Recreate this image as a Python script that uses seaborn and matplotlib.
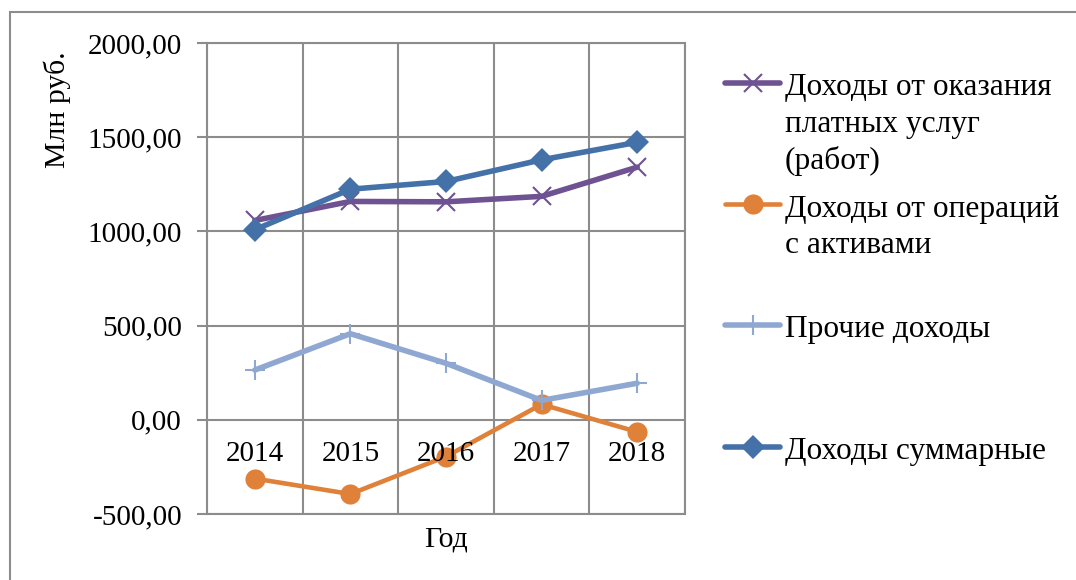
import matplotlib
matplotlib.use('Agg')
import matplotlib.pyplot as plt
import seaborn as sns
import numpy as np
import pandas as pd
from matplotlib.lines import Line2D
from matplotlib.patches import Rectangle

# ---- data ----
years = ['2014', '2015', '2016', '2017', '2018']
uslugi = [1058, 1159, 1157, 1186, 1341]
aktivy = [-312, -394, -195, 82, -64]
prochie = [264, 457, 300, 103, 194]
summarnye = [1009, 1224, 1265, 1380, 1473]
names = ['Доходы от оказания\nплатных услуг\n(работ)',
         'Доходы от операций\nс активами',
         'Прочие доходы',
         'Доходы суммарные']
yticks = [-500, 0, 500, 1000, 1500, 2000]
xlabel = 'Год'
ylabel = 'Млн руб.'

sns.set_style('white')
plt.rcParams['font.family'] = ['Liberation Serif', 'DejaVu Serif']

W, H = 1076, 580
fig = plt.figure(figsize=(W / 100, H / 100), dpi=100)
ax = fig.add_axes([207 / W, 1 - 514 / H, (685 - 207) / W, (514 - 43) / H])

pos = np.arange(len(years))
styles = [
    dict(color='#6E5291', marker='x', markersize=13, markeredgewidth=1.5, linewidth=4.0),
    dict(color='#E0813A', marker='o', markersize=14.5, markeredgewidth=0, linewidth=3.3),
    dict(color='#8FA8D1', marker='+', markersize=14, markeredgewidth=1.5, linewidth=4.0),
    dict(color='#4571A9', marker='D', markersize=12.5, markeredgewidth=0, linewidth=4.0),
]
for i, (vals, st) in enumerate(zip([uslugi, aktivy, prochie, summarnye], styles)):
    df = pd.DataFrame({'x': pos, 'y': vals})
    sns.lineplot(data=df, x='x', y='y', ax=ax, zorder=3 + i,
                 markeredgecolor=st['color'], **st)

gc = '#8C8C8C'
ax.set_xlim(-0.5, 4.5)
ax.set_ylim(yticks[0], yticks[-1])
ax.set_yticks(yticks)
ax.set_yticklabels([f'{v:.2f}'.replace('.', ',') for v in yticks])
ax.set_xticks(pos)
ax.set_xticklabels([])
ax.set_xticks(np.arange(-0.5, len(years), 1.0), minor=True)
ax.tick_params(axis='x', which='both', length=0, bottom=False)
ax.grid(False)
ax.grid(True, which='minor', axis='x', color=gc, lw=1.5)
ax.grid(True, which='major', axis='y', color=gc, lw=1.5)
ax.set_axisbelow(True)
for s in ax.spines.values():
    s.set_color(gc)
    s.set_linewidth(1.5)
ax.tick_params(axis='y', left=True, length=7, width=1.5, color=gc, pad=11,
               labelsize=21, direction='out', labelcolor='black')
ax.set_xlabel('')
ax.set_ylabel('')

sec = ax.secondary_xaxis(0, transform=ax.transData)
sec.set_xticks(pos, labels=years)
sec.tick_params(length=0, pad=15, labelsize=21, labelcolor='black')
sec.spines['bottom'].set_visible(False)
sec.set_zorder(10)

fig.text(446 / W, 1 - 540 / H, xlabel, ha='center', va='center', fontsize=21.5, color='black')
fig.text(57 / W, 1 - 110 / H, ylabel, rotation=90, ha='center', va='center', fontsize=21.5,
         color='black')

# legend (manual)
handle_y = [83, 204, 325, 447]
lh = 36.7
for name, st, hy in zip(names, styles, handle_y):
    ln = Line2D([725 / W, 752.5 / W, 780 / W], [1 - hy / H] * 3, transform=fig.transFigure,
                color=st['color'], linewidth=st['linewidth'], marker=st['marker'],
                markersize=st['markersize'], markeredgewidth=st['markeredgewidth'],
                markeredgecolor=st['color'], markevery=[1])
    fig.add_artist(ln)
    for k, line in enumerate(name.split('\n')):
        fig.text(785 / W, 1 - (hy + 12.5 + k * lh) / H, line, ha='left', va='baseline',
                 fontsize=22.6, color='black')

# outer frame
fig.add_artist(Rectangle((10 / W, -0.1), 1.2, 1.1 - 12 / H, transform=fig.transFigure,
                         fill=False, edgecolor=gc, linewidth=1.5))

fig.savefig('out.png', dpi=100)
